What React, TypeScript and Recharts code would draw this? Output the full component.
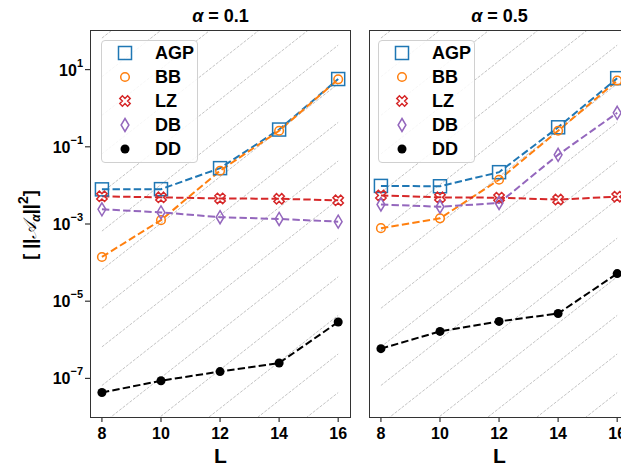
import { LineChart, Line, XAxis, YAxis } from 'recharts';

// system sizes along the x axis
const L_VALUES = [8, 10, 12, 14, 16];

// alpha = 0.1
const AGP_01 = [7.9e-3, 8.0e-3, 2.8e-2, 0.28, 5.7];
const BB_01 = [1.4e-4, 1.26e-3, 2.4e-2, 0.26, 5.6];
const LZ_01 = [5.2e-3, 4.9e-3, 4.6e-3, 4.5e-3, 4.1e-3];
const DB_01 = [2.4e-3, 2.0e-3, 1.5e-3, 1.35e-3, 1.15e-3];
const DD_01 = [4.3e-8, 8.7e-8, 1.5e-7, 2.5e-7, 2.9e-6];

// alpha = 0.5
const AGP_05 = [9.7e-3, 9.5e-3, 2.2e-2, 0.32, 6.0];
const BB_05 = [7.8e-4, 1.4e-3, 1.4e-2, 0.26, 5.2];
const LZ_05 = [5.5e-3, 4.9e-3, 4.8e-3, 4.3e-3, 5.1e-3];
const DB_05 = [3.2e-3, 2.8e-3, 3.5e-3, 6.2e-2, 0.76];
const DD_05 = [5.9e-7, 1.65e-6, 3.0e-6, 4.8e-6, 5.2e-5];

const Y_TICKS = [1e-7, 1e-5, 1e-3, 1e-1, 1e1];
const X_TICKS = [8, 10, 12, 14, 16];

// background guides ~ 10^m * 4^L, one per decade
const GUIDE_BASE = 4;
const GUIDE_DECADES = [-17, -16, -15, -14, -13, -12, -11, -10, -9, -8, -7, -6, -5, -4, -3];

const SERIES = [
  { key: 'AGP', color: '#1f77b4' },
  { key: 'BB', color: '#ff7f0e' },
  { key: 'LZ', color: '#d62728' },
  { key: 'DB', color: '#9467bd' },
  { key: 'DD', color: '#000000' },
];

const FONT = '"Liberation Sans", Arial, sans-serif';

const xMarkPoints = (() => {
  const a = 1 / 6;
  const h = 0.5;
  const plus = [
    [-a, -h], [a, -h], [a, -a], [h, -a], [h, a], [a, a],
    [a, h], [-a, h], [-a, a], [-h, a], [-h, -a], [-a, -a],
  ];
  const c = Math.SQRT1_2;
  return plus.map(([x, y]) => [(x - y) * c, (x + y) * c]);
})();

const Marker = ({ kind, cx, cy }: { kind: string; cx: number; cy: number }) => {
  switch (kind) {
    case 'AGP':
      return <rect x={cx - 6.5} y={cy - 6.5} width={13} height={13} fill="none" stroke="#1f77b4" strokeWidth={1.5} />;
    case 'BB':
      return <circle cx={cx} cy={cy} r={4.3} fill="none" stroke="#ff7f0e" strokeWidth={1.5} />;
    case 'LZ': {
      const s = 11;
      const pts = xMarkPoints.map(([x, y]) => `${cx + x * s},${cy + y * s}`).join(' ');
      return <polygon points={pts} fill="none" stroke="#d62728" strokeWidth={1.5} />;
    }
    case 'DB':
      return (
        <polygon
          points={`${cx},${cy - 6.5} ${cx + 3.9},${cy} ${cx},${cy + 6.5} ${cx - 3.9},${cy}`}
          fill="none"
          stroke="#9467bd"
          strokeWidth={1.5}
        />
      );
    default:
      return <circle cx={cx} cy={cy} r={4.5} fill="#000" />;
  }
};

const LogTick = ({ x, y, payload }: any) => {
  const exp = Math.round(Math.log10(payload.value));
  return (
    <text x={x} y={y} textAnchor="end" fontFamily={FONT} fontWeight="bold" fill="#000">
      <tspan fontSize={16} dy={6}>10</tspan>
      <tspan fontSize={11} dy={-9}>{exp < 0 ? `\u2212${-exp}` : `${exp}`}</tspan>
    </text>
  );
};

const buildRows = (vals: Record<string, number[]>) =>
  L_VALUES.map((L, i) => {
    const row: Record<string, number> = { L };
    Object.keys(vals).forEach((k) => (row[k] = vals[k][i]));
    return row;
  });

const guideData = GUIDE_DECADES.map((m) => [
  { L: 8, v: Math.pow(10, m) * Math.pow(GUIDE_BASE, 8) },
  { L: 16, v: Math.pow(10, m) * Math.pow(GUIDE_BASE, 16) },
]);

const Panel = ({
  rows,
  width,
  yWidth,
  right,
  showLabels,
}: {
  rows: Record<string, number>[];
  width: number;
  yWidth: number;
  right: number;
  showLabels: boolean;
}) => (
  <LineChart width={width} height={468} data={rows} margin={{ top: 31, right, bottom: 0, left: 0 }}>
    <XAxis
      dataKey="L"
      type="number"
      domain={[7.63, 16.4]}
      ticks={X_TICKS}
      allowDataOverflow
      height={51}
      axisLine={false}
      tickSize={5}
      tickMargin={6}
      tickLine={{ stroke: '#333', strokeWidth: 1.2 }}
      tick={{ fontSize: 16, fontWeight: 'bold', fill: '#000', fontFamily: FONT }}
      label={{
        value: 'L',
        position: 'insideBottom',
        offset: 5,
        style: { fontSize: 21, fontWeight: 'bold', fill: '#000', fontFamily: FONT },
      }}
    />
    <YAxis
      type="number"
      scale="log"
      domain={[1e-8, 1e2]}
      ticks={Y_TICKS}
      allowDataOverflow
      width={yWidth}
      axisLine={false}
      tickSize={6}
      tickMargin={2}
      tickLine={{ stroke: '#333', strokeWidth: 1.2 }}
      tick={showLabels ? <LogTick /> : false}
    />
    {guideData.map((d, i) => (
      <Line
        key={`guide-${i}`}
        data={d}
        dataKey="v"
        stroke="#b4b4b4"
        strokeWidth={0.8}
        strokeDasharray="3 1.4"
        dot={false}
        activeDot={false}
        legendType="none"
        isAnimationActive={false}
      />
    ))}
    {SERIES.map((s) => (
      <Line
        key={s.key}
        dataKey={s.key}
        stroke={s.color}
        strokeWidth={2}
        strokeDasharray="7.4 3.2"
        dot={(p: any) => <Marker key={`${s.key}-${p.index}`} kind={s.key} cx={p.cx} cy={p.cy} />}
        activeDot={false}
        isAnimationActive={false}
      />
    ))}
  </LineChart>
);

const LegendBox = ({ left }: { left: number }) => (
  <div
    style={{
      position: 'absolute',
      left,
      top: 40,
      width: 97,
      height: 123,
      border: '1px solid #d0d0d0',
      borderRadius: 4,
      background: 'rgba(255,255,255,0.85)',
      boxSizing: 'border-box',
    }}
  >
    {SERIES.map((s, i) => (
      <div key={s.key} style={{ position: 'absolute', left: 0, top: i * 24, height: 24, width: '100%' }}>
        <svg width={24} height={24} style={{ position: 'absolute', left: 11, top: 0 }}>
          <Marker kind={s.key} cx={12} cy={12} />
        </svg>
        <span
          style={{
            position: 'absolute',
            left: 53,
            top: 0,
            lineHeight: '24px',
            fontSize: 18,
            fontWeight: 'bold',
            fontFamily: FONT,
            color: '#000',
          }}
        >
          {s.key}
        </span>
      </div>
    ))}
  </div>
);

const Title = ({ left, width, value }: { left: number; width: number; value: string }) => (
  <div
    style={{
      position: 'absolute',
      left,
      top: 4,
      width,
      textAlign: 'center',
      fontFamily: FONT,
      fontWeight: 'bold',
      fontSize: 18,
      lineHeight: '24px',
      color: '#000',
    }}
  >
    <i>α</i> = {value}
  </div>
);

const Frame = ({ left, width }: { left: number; width: number }) => (
  <div
    style={{
      position: 'absolute',
      left: left - 0.6,
      top: 30.4,
      width: width + 1.2,
      height: 387.2,
      border: '1.2px solid #333',
      boxSizing: 'border-box',
      pointerEvents: 'none',
    }}
  />
);

export default function App() {
  const rows01 = buildRows({ AGP: AGP_01, BB: BB_01, LZ: LZ_01, DB: DB_01, DD: DD_01 });
  const rows05 = buildRows({ AGP: AGP_05, BB: BB_05, LZ: LZ_05, DB: DB_05, DD: DD_05 });

  return (
    <div
      style={{
        position: 'absolute',
        left: 0,
        top: 0,
        width: 621,
        height: 468,
        overflow: 'hidden',
        background: '#fff',
      }}
    >
      <div style={{ position: 'absolute', left: 0, top: 0 }}>
        <Panel rows={rows01} width={360} yWidth={91} right={10} showLabels />
      </div>
      <div style={{ position: 'absolute', left: 360, top: 0 }}>
        <Panel rows={rows05} width={280} yWidth={10} right={11} showLabels={false} />
      </div>
      <Frame left={91} width={259} />
      <Frame left={370} width={259} />
      <LegendBox left={101} />
      <LegendBox left={378} />
      <Title left={91} width={259} value="0.1" />
      <Title left={370} width={259} value="0.5" />
      <svg width={60} height={468} style={{ position: 'absolute', left: 0, top: 0 }}>
        <text
          transform="translate(36,225) rotate(-90)"
          textAnchor="middle"
          fontFamily={FONT}
          fontWeight="bold"
          fontSize={18}
          fill="#000"
        >
          [ ||
          <tspan fontWeight="normal" fontFamily='"DejaVu Sans", serif' fontStyle="italic">𝒜</tspan>
          <tspan fontSize={12} dy={4} fontStyle="italic">α</tspan>
          <tspan dy={-4}>||</tspan>
          <tspan fontSize={14} dy={-8}>2</tspan>
          <tspan dy={8}>]</tspan>
        </text>
      </svg>
    </div>
  );
}
